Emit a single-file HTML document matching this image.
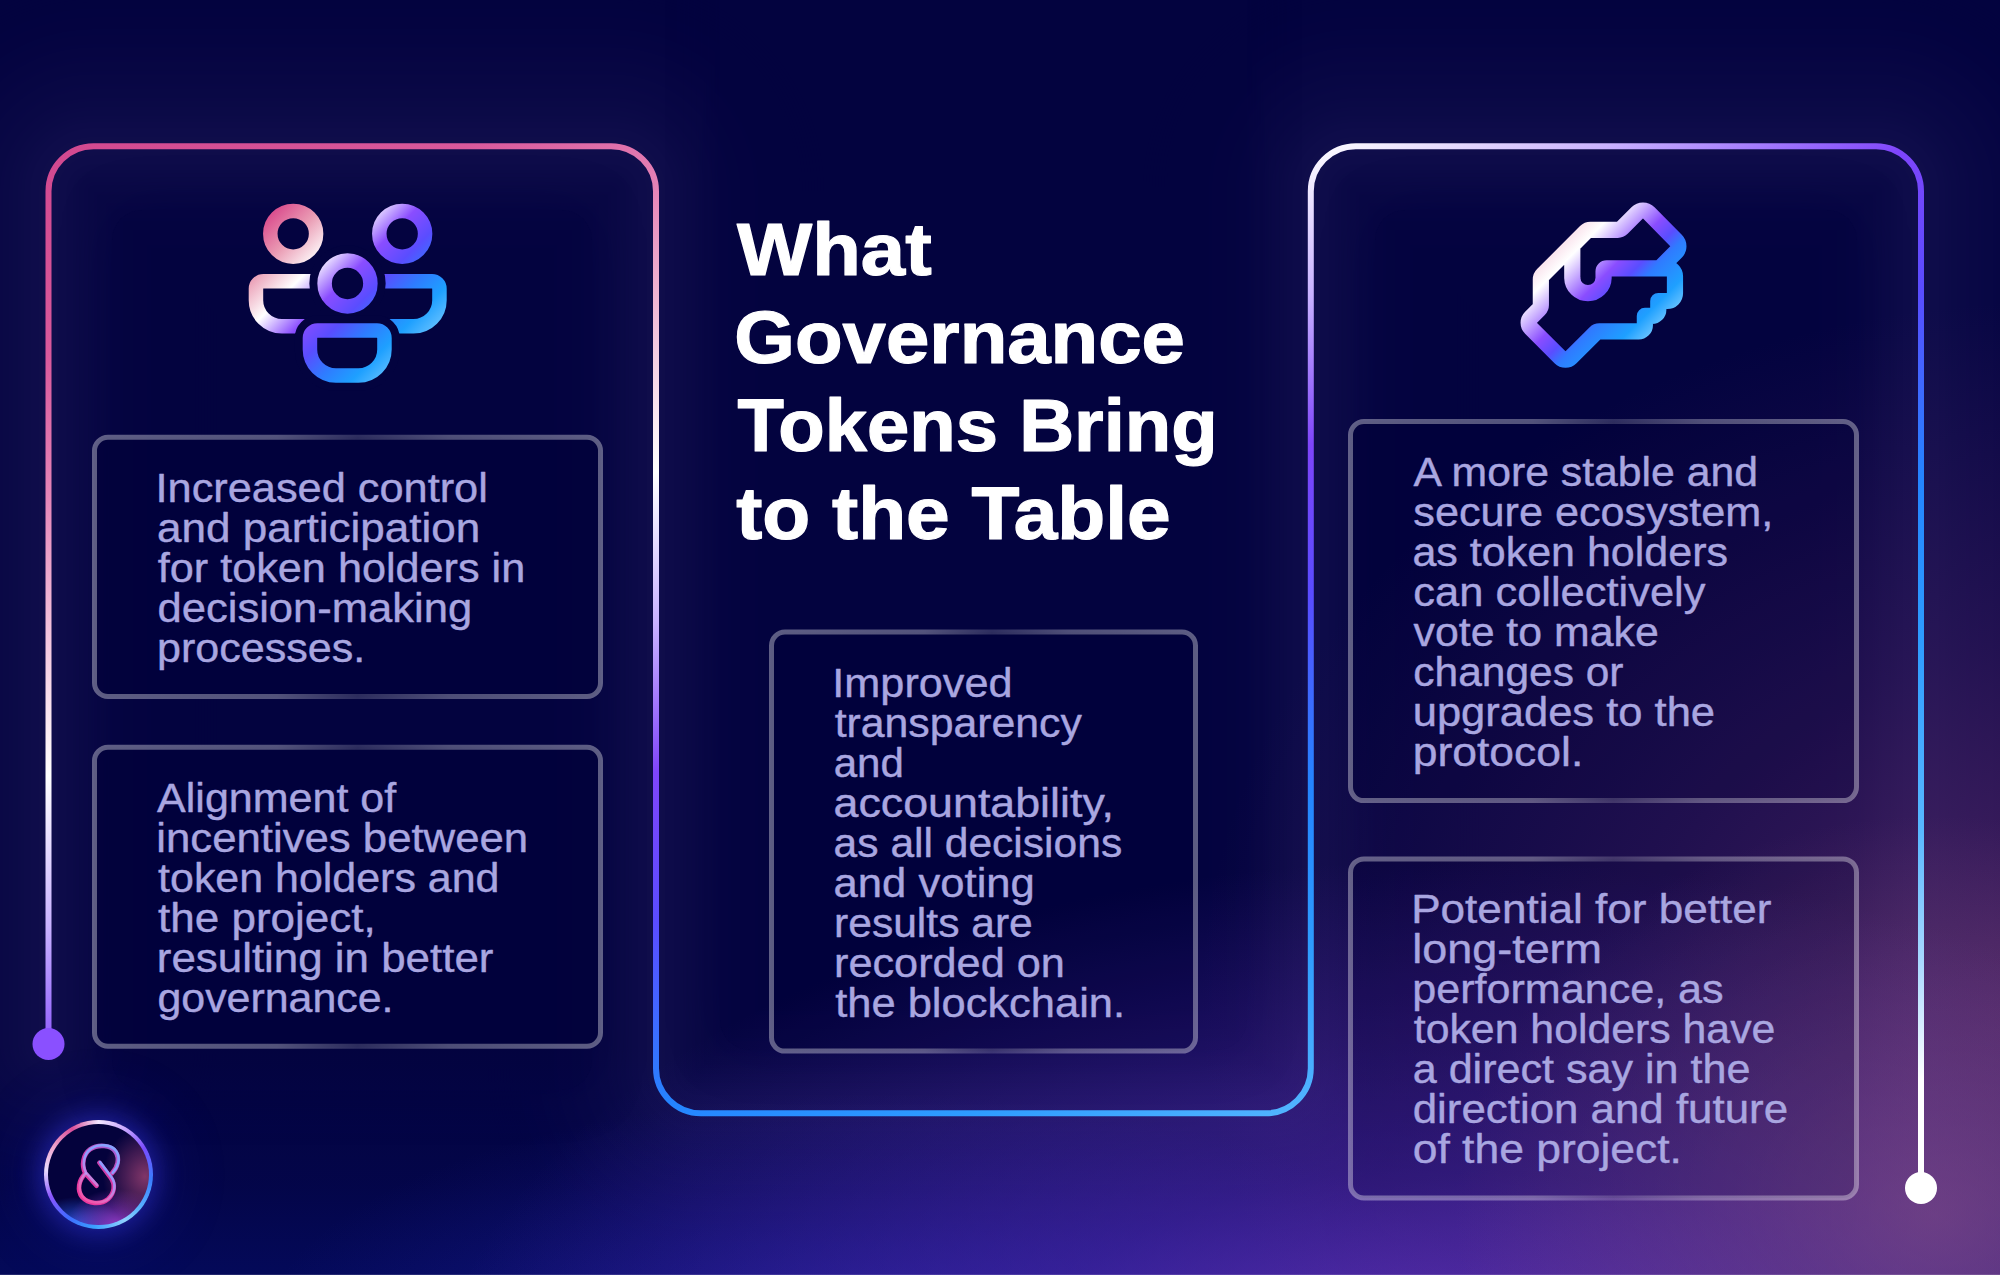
<!DOCTYPE html>
<html><head><meta charset="utf-8"><title>What Governance Tokens Bring to the Table</title>
<style>
html,body{margin:0;padding:0;background:#03033f;}
body{width:2000px;height:1275px;overflow:hidden;position:relative;font-family:"Liberation Sans",sans-serif;}
#bg{position:absolute;left:0;top:0;width:2000px;height:1275px;
 background:
  radial-gradient(ellipse 480px 400px at 1935px 1215px, rgba(140,84,135,0.56), rgba(140,84,135,0) 100%),
  radial-gradient(ellipse 1020px 560px at 1450px 1420px, rgba(120,60,200,0.85), rgba(100,50,195,0.45) 45%, rgba(60,40,180,0) 100%),
  radial-gradient(ellipse 860px 700px at 2060px 1000px, rgba(112,52,118,0.62), rgba(100,45,115,0.30) 50%, rgba(90,40,110,0) 100%),
  radial-gradient(ellipse 620px 240px at 880px 1335px, rgba(40,36,178,0.55), rgba(40,36,178,0) 100%),
  linear-gradient(to top, rgba(6,24,150,0.30) 0px, rgba(6,22,140,0.13) 90px, rgba(6,20,140,0) 230px);}
svg{position:absolute;left:0;top:0;}
.dk{position:absolute;}
.tt{font-family:"Liberation Sans",sans-serif;font-weight:bold;font-size:74px;fill:#ffffff;stroke:#ffffff;stroke-width:1.2px;stroke-linejoin:round;}
.bt{font-family:"Liberation Sans",sans-serif;font-size:40px;fill:#a9a6e0;stroke:#a9a6e0;stroke-width:0.4px;stroke-linejoin:round;}
#logo{position:absolute;left:44.3px;top:1120.4px;width:108.6px;height:108.6px;border-radius:50%;
 background:conic-gradient(from 0deg, #f3e6ff 0deg, #c9a8ff 30deg, #7a4cff 60deg, #3a7dff 95deg, #5ab4ff 130deg, #8fd0ff 150deg, #3aa0ff 185deg, #3f6bff 215deg, #8a55ff 245deg, #e9dcff 275deg, #f0a8d0 300deg, #d84f9a 330deg, #f3e6ff 360deg);
 box-shadow:0 0 24px 5px rgba(60,60,235,0.42), 0 0 60px 18px rgba(40,40,200,0.20);}
#logo i{position:absolute;left:3.6px;top:3.6px;right:3.6px;bottom:3.6px;border-radius:50%;display:block;
 background:
  radial-gradient(ellipse 42px 50px at 96% 52%, rgba(170,70,120,0.75), rgba(170,70,120,0) 100%),
  radial-gradient(ellipse 50px 36px at 68% 100%, rgba(150,60,200,0.95), rgba(150,60,200,0) 100%),
  radial-gradient(ellipse 46px 30px at 28% 102%, rgba(40,90,230,0.95), rgba(40,90,230,0) 100%),
  #04023c;}
#bl{position:absolute;left:0;top:1274px;width:2000px;height:1px;background:rgba(255,255,255,0.12);}
</style></head><body>
<svg width="2000" height="1275" viewBox="0 0 2000 1275">
<defs>
<linearGradient id="lineg" gradientUnits="userSpaceOnUse" x1="48.5" y1="146.0" x2="839.8" y2="1728.6">
<stop offset="0.0000" stop-color="#d2488f"/>
<stop offset="0.1060" stop-color="#d9599c"/>
<stop offset="0.1768" stop-color="#e585b8"/>
<stop offset="0.2476" stop-color="#f3c4dd"/>
<stop offset="0.3183" stop-color="#ffffff"/>
<stop offset="0.3942" stop-color="#c9b2ff"/>
<stop offset="0.4700" stop-color="#7f45fb"/>
<stop offset="0.5458" stop-color="#5a4cff"/>
<stop offset="0.6419" stop-color="#2485ff"/>
<stop offset="0.7227" stop-color="#2e9cff"/>
<stop offset="0.8188" stop-color="#58b8ff"/>
<stop offset="0.8845" stop-color="#a8d8ff"/>
<stop offset="0.9452" stop-color="#ffffff"/>
<stop offset="1.0000" stop-color="#ffffff"/>
</linearGradient>
<linearGradient id="cardg" gradientUnits="objectBoundingBox" x1="0" y1="0" x2="1" y2="0">
<stop offset="0" stop-color="#ffffff" stop-opacity="0.36"/>
<stop offset="0.36" stop-color="#ffffff" stop-opacity="0.32"/>
<stop offset="0.52" stop-color="#ffffff" stop-opacity="0.17"/>
<stop offset="0.70" stop-color="#ffffff" stop-opacity="0.30"/>
<stop offset="1" stop-color="#ffffff" stop-opacity="0.36"/>
</linearGradient>
<linearGradient id="icog1" gradientUnits="userSpaceOnUse" x1="255" y1="225" x2="400" y2="370">
<stop offset="0" stop-color="#d9468a"/>
<stop offset="0.17" stop-color="#ea9cb4"/>
<stop offset="0.34" stop-color="#ffffff"/>
<stop offset="0.50" stop-color="#8a4dff"/>
<stop offset="0.63" stop-color="#5a4dff"/>
<stop offset="0.75" stop-color="#2f7bff"/>
<stop offset="0.87" stop-color="#1ea0ff"/>
<stop offset="1" stop-color="#6cc4ff"/>
</linearGradient>
<linearGradient id="icog2" gradientUnits="userSpaceOnUse" x1="1555" y1="235" x2="1652" y2="332">
<stop offset="0" stop-color="#f6cfe0"/>
<stop offset="0.19" stop-color="#ffffff"/>
<stop offset="0.464" stop-color="#8a4dff"/>
<stop offset="0.588" stop-color="#5a4dff"/>
<stop offset="0.68" stop-color="#2f7bff"/>
<stop offset="0.88" stop-color="#1ea0ff"/>
<stop offset="1" stop-color="#62c0ff"/>
</linearGradient>
<path id="mainline" d="M48.5,1044 V191.2 A45,45 0 0 1 93.5,146.2 H611 A45,45 0 0 1 656,191.2 V1068.3 A45,45 0 0 0 701,1113.3 H1265.8 A45,45 0 0 0 1310.8,1068.3 V191.2 A45,45 0 0 1 1355.8,146.2 H1876 A45,45 0 0 1 1921,191.2 V1188"/>
<filter id="blur40" x="-10%" y="-10%" width="120%" height="120%"><feGaussianBlur stdDeviation="38"/></filter>
<filter id="blur12" x="-10%" y="-10%" width="120%" height="120%"><feGaussianBlur stdDeviation="14"/></filter>
</defs>
</svg>
<svg width="2000" height="1275" viewBox="0 0 2000 1275">
<g fill="none" stroke="#c8aaff" stroke-linecap="round" opacity="0.0711">
<use href="#mainline" stroke-width="534.0" stroke-opacity="0.0021"/>
<use href="#mainline" stroke-width="498.0" stroke-opacity="0.0024"/>
<use href="#mainline" stroke-width="474.0" stroke-opacity="0.0028"/>
<use href="#mainline" stroke-width="456.0" stroke-opacity="0.0030"/>
<use href="#mainline" stroke-width="444.0" stroke-opacity="0.0026"/>
<use href="#mainline" stroke-width="432.0" stroke-opacity="0.0031"/>
<use href="#mainline" stroke-width="420.0" stroke-opacity="0.0038"/>
<use href="#mainline" stroke-width="414.0" stroke-opacity="0.0022"/>
<use href="#mainline" stroke-width="408.0" stroke-opacity="0.0024"/>
<use href="#mainline" stroke-width="402.0" stroke-opacity="0.0026"/>
<use href="#mainline" stroke-width="396.0" stroke-opacity="0.0028"/>
<use href="#mainline" stroke-width="390.0" stroke-opacity="0.0031"/>
<use href="#mainline" stroke-width="384.0" stroke-opacity="0.0033"/>
<use href="#mainline" stroke-width="378.0" stroke-opacity="0.0036"/>
<use href="#mainline" stroke-width="372.0" stroke-opacity="0.0039"/>
<use href="#mainline" stroke-width="366.0" stroke-opacity="0.0042"/>
<use href="#mainline" stroke-width="360.0" stroke-opacity="0.0046"/>
<use href="#mainline" stroke-width="354.0" stroke-opacity="0.0049"/>
<use href="#mainline" stroke-width="348.0" stroke-opacity="0.0053"/>
<use href="#mainline" stroke-width="342.0" stroke-opacity="0.0057"/>
<use href="#mainline" stroke-width="336.0" stroke-opacity="0.0061"/>
<use href="#mainline" stroke-width="330.0" stroke-opacity="0.0066"/>
<use href="#mainline" stroke-width="324.0" stroke-opacity="0.0070"/>
<use href="#mainline" stroke-width="318.0" stroke-opacity="0.0075"/>
<use href="#mainline" stroke-width="312.0" stroke-opacity="0.0081"/>
<use href="#mainline" stroke-width="306.0" stroke-opacity="0.0086"/>
<use href="#mainline" stroke-width="300.0" stroke-opacity="0.0092"/>
<use href="#mainline" stroke-width="294.0" stroke-opacity="0.0097"/>
<use href="#mainline" stroke-width="288.0" stroke-opacity="0.0104"/>
<use href="#mainline" stroke-width="282.0" stroke-opacity="0.0110"/>
<use href="#mainline" stroke-width="276.0" stroke-opacity="0.0117"/>
<use href="#mainline" stroke-width="270.0" stroke-opacity="0.0123"/>
<use href="#mainline" stroke-width="264.0" stroke-opacity="0.0131"/>
<use href="#mainline" stroke-width="258.0" stroke-opacity="0.0138"/>
<use href="#mainline" stroke-width="252.0" stroke-opacity="0.0145"/>
<use href="#mainline" stroke-width="246.0" stroke-opacity="0.0153"/>
<use href="#mainline" stroke-width="240.0" stroke-opacity="0.0161"/>
<use href="#mainline" stroke-width="234.0" stroke-opacity="0.0169"/>
<use href="#mainline" stroke-width="228.0" stroke-opacity="0.0178"/>
<use href="#mainline" stroke-width="222.0" stroke-opacity="0.0186"/>
<use href="#mainline" stroke-width="216.0" stroke-opacity="0.0195"/>
<use href="#mainline" stroke-width="210.0" stroke-opacity="0.0203"/>
<use href="#mainline" stroke-width="204.0" stroke-opacity="0.0212"/>
<use href="#mainline" stroke-width="198.0" stroke-opacity="0.0221"/>
<use href="#mainline" stroke-width="192.0" stroke-opacity="0.0230"/>
<use href="#mainline" stroke-width="186.0" stroke-opacity="0.0239"/>
<use href="#mainline" stroke-width="180.0" stroke-opacity="0.0248"/>
<use href="#mainline" stroke-width="174.0" stroke-opacity="0.0257"/>
<use href="#mainline" stroke-width="168.0" stroke-opacity="0.0266"/>
<use href="#mainline" stroke-width="162.0" stroke-opacity="0.0274"/>
<use href="#mainline" stroke-width="156.0" stroke-opacity="0.0283"/>
<use href="#mainline" stroke-width="150.0" stroke-opacity="0.0291"/>
<use href="#mainline" stroke-width="144.0" stroke-opacity="0.0300"/>
<use href="#mainline" stroke-width="138.0" stroke-opacity="0.0309"/>
<use href="#mainline" stroke-width="132.0" stroke-opacity="0.0318"/>
<use href="#mainline" stroke-width="126.0" stroke-opacity="0.0329"/>
<use href="#mainline" stroke-width="120.0" stroke-opacity="0.0341"/>
<use href="#mainline" stroke-width="114.0" stroke-opacity="0.0356"/>
<use href="#mainline" stroke-width="108.0" stroke-opacity="0.0374"/>
<use href="#mainline" stroke-width="102.0" stroke-opacity="0.0397"/>
<use href="#mainline" stroke-width="96.0" stroke-opacity="0.0427"/>
<use href="#mainline" stroke-width="90.0" stroke-opacity="0.0465"/>
<use href="#mainline" stroke-width="84.0" stroke-opacity="0.0512"/>
<use href="#mainline" stroke-width="78.0" stroke-opacity="0.0570"/>
<use href="#mainline" stroke-width="72.0" stroke-opacity="0.0640"/>
<use href="#mainline" stroke-width="66.0" stroke-opacity="0.0722"/>
<use href="#mainline" stroke-width="60.0" stroke-opacity="0.0815"/>
<use href="#mainline" stroke-width="54.0" stroke-opacity="0.0916"/>
<use href="#mainline" stroke-width="48.0" stroke-opacity="0.1022"/>
<use href="#mainline" stroke-width="42.0" stroke-opacity="0.1125"/>
<use href="#mainline" stroke-width="36.0" stroke-opacity="0.1212"/>
<use href="#mainline" stroke-width="30.0" stroke-opacity="0.1264"/>
<use href="#mainline" stroke-width="24.0" stroke-opacity="0.1254"/>
<use href="#mainline" stroke-width="18.0" stroke-opacity="0.1145"/>
<use href="#mainline" stroke-width="12.0" stroke-opacity="0.0902"/>
<use href="#mainline" stroke-width="6.0" stroke-opacity="0.0510"/>
</g>
</svg>
<div class="dk" style="left:112px;top:210px;width:480px;height:880px;border-radius:30px;background:rgba(3,3,63,0.62);box-shadow:0 0 46px 0px rgba(3,3,63,0.62)"></div>
<div class="dk" style="left:720px;top:-100px;width:527px;height:1150px;border-radius:30px;background:rgba(3,3,63,0.62);box-shadow:0 0 46px 0px rgba(3,3,63,0.62)"></div>
<div class="dk" style="left:1375px;top:210px;width:482px;height:1030px;border-radius:30px;background:rgba(3,3,63,0.62);box-shadow:0 0 46px 0px rgba(3,3,63,0.62)"></div>
<div class="dk" style="left:94px;top:436.7px;width:507px;height:260.3px;border-radius:15px;background:rgba(3,3,63,0.7)"></div>
<div class="dk" style="left:94px;top:746.8px;width:507px;height:300px;border-radius:15px;background:rgba(3,3,63,0.7)"></div>
<div class="dk" style="left:771px;top:631.6px;width:425px;height:420px;border-radius:15px;background:rgba(3,3,63,0.7)"></div>
<div class="dk" style="left:1350px;top:421.1px;width:507px;height:380px;border-radius:15px;background:rgba(3,3,63,0.7)"></div>
<div class="dk" style="left:1350px;top:858.4px;width:507px;height:340px;border-radius:15px;background:rgba(3,3,63,0.7)"></div>
<div id="bg"></div>
<svg width="2000" height="1275" viewBox="0 0 2000 1275">
<path d="M48.5,1044 V191.2 A45,45 0 0 1 93.5,146.2 H611 A45,45 0 0 1 656,191.2 V1068.3 A45,45 0 0 0 701,1113.3 H1265.8 A45,45 0 0 0 1310.8,1068.3 V191.2 A45,45 0 0 1 1355.8,146.2 H1876 A45,45 0 0 1 1921,191.2 V1188" fill="none" stroke="url(#lineg)" stroke-width="6" stroke-linecap="butt"/>
<circle cx="48.5" cy="1044" r="16" fill="#8a50ff"/>
<circle cx="1921" cy="1188" r="16" fill="#ffffff"/>
<rect x="94.5" y="437.2" width="506" height="259.3" rx="13.5" ry="13.5" fill="rgba(0,0,48,0.13)" stroke="url(#cardg)" stroke-width="5"/>
<rect x="94.5" y="747.3" width="506" height="299" rx="13.5" ry="13.5" fill="rgba(0,0,48,0.13)" stroke="url(#cardg)" stroke-width="5"/>
<rect x="771.5" y="632.1" width="424" height="419" rx="13.5" ry="13.5" fill="rgba(0,0,48,0.13)" stroke="url(#cardg)" stroke-width="5"/>
<rect x="1350.5" y="421.6" width="506" height="379" rx="13.5" ry="13.5" fill="rgba(0,0,48,0.13)" stroke="url(#cardg)" stroke-width="5"/>
<rect x="1350.5" y="858.9" width="506" height="339" rx="13.5" ry="13.5" fill="rgba(0,0,48,0.13)" stroke="url(#cardg)" stroke-width="5"/>

<g fill="none" stroke="url(#icog1)" stroke-width="14.5">
  <circle cx="293.2" cy="233.8" r="22.9"/>
  <circle cx="402.2" cy="233.8" r="22.9"/>
  <path d="M312.45,281.3 H263.45 A7.5,7.5 0 0 0 255.95,288.8 V300.3 A26,26 0 0 0 281.95,326.3 H312.45"/>
  <path d="M382.95,281.3 H431.95 A7.5,7.5 0 0 1 439.45,288.8 V300.3 A26,26 0 0 1 413.45,326.3 H382.95"/>
</g>
<g fill="none" stroke="#03033f" stroke-width="30.5">
  <circle cx="347.5" cy="283.5" r="22.9"/>
  <path d="M317.45,330.5 H376.95 A7.5,7.5 0 0 1 384.45,338.0 V349.5 A26,26 0 0 1 358.45,375.5 H335.95 A26,26 0 0 1 309.95,349.5 V338.0 A7.5,7.5 0 0 1 317.45,330.5 Z"/>
</g>
<g fill="#03033f" stroke="none">
  <circle cx="347.5" cy="283.5" r="22.9"/>
  <path d="M317.45,330.5 H376.95 A7.5,7.5 0 0 1 384.45,338.0 V349.5 A26,26 0 0 1 358.45,375.5 H335.95 A26,26 0 0 1 309.95,349.5 V338.0 A7.5,7.5 0 0 1 317.45,330.5 Z"/>
</g>
<g fill="none" stroke="url(#icog1)" stroke-width="14.5">
  <circle cx="347.5" cy="283.5" r="22.9"/>
  <path d="M317.45,330.5 H376.95 A7.5,7.5 0 0 1 384.45,338.0 V349.5 A26,26 0 0 1 358.45,375.5 H335.95 A26,26 0 0 1 309.95,349.5 V338.0 A7.5,7.5 0 0 1 317.45,330.5 Z"/>
</g>

<path d="M1572.29,245.29 L1572.29,277.92 A15.65,15.65 0 0 0 1603.58,277.92 L1603.58,277.92 L1603.58,271.44 A2.98,2.98 0 0 1 1606.57,268.46 L1667.22,268.46 A7.75,7.75 0 0 1 1674.97,276.21 L1674.97,293.27 A7.75,7.75 0 0 1 1667.22,301.02 L1658.28,301.02 L1658.28,309.66 A6.26,6.26 0 0 1 1652.02,315.92 L1644.86,315.92 L1644.86,325.16 A6.26,6.26 0 0 1 1638.60,331.42 L1599.35,331.42 A5.96,5.96 0 0 0 1595.13,333.17 L1570.78,357.52 A7.45,7.45 0 0 1 1560.24,357.52 L1530.84,328.12 A7.45,7.45 0 0 1 1530.84,317.58 L1539.10,309.32 A5.96,5.96 0 0 0 1540.85,305.11 L1540.85,279.51 A6.71,6.71 0 0 1 1542.81,274.77 L1585.75,231.83 A6.71,6.71 0 0 1 1590.49,229.86 L1617.73,229.86 A5.96,5.96 0 0 0 1621.95,228.12 L1637.17,212.89 A8.20,8.20 0 0 1 1648.80,212.93 L1676.02,240.46 A8.20,8.20 0 0 1 1675.98,252.02 L1659.62,268.38" fill="none" stroke="url(#icog2)" stroke-width="16.2" stroke-linejoin="round" stroke-linecap="round"/>
<g>
<text class="tt" x="737.00" y="275.20" textLength="194.69" lengthAdjust="spacingAndGlyphs">What</text>
<text class="tt" x="734.34" y="363.20" textLength="450.63" lengthAdjust="spacingAndGlyphs">Governance</text>
<text class="tt" x="737.50" y="451.20" textLength="480.22" lengthAdjust="spacingAndGlyphs">Tokens Bring</text>
<text class="tt" x="736.20" y="539.20" textLength="434.49" lengthAdjust="spacingAndGlyphs">to the Table</text>
<text class="bt" x="155.55" y="501.60" textLength="332.29" lengthAdjust="spacingAndGlyphs">Increased control</text>
<text class="bt" x="157.10" y="541.60" textLength="323.17" lengthAdjust="spacingAndGlyphs">and participation</text>
<text class="bt" x="157.80" y="581.60" textLength="367.43" lengthAdjust="spacingAndGlyphs">for token holders in</text>
<text class="bt" x="157.51" y="621.60" textLength="314.73" lengthAdjust="spacingAndGlyphs">decision-making</text>
<text class="bt" x="157.05" y="661.60" textLength="208.10" lengthAdjust="spacingAndGlyphs">processes.</text>
<text class="bt" x="157.10" y="811.70" textLength="239.05" lengthAdjust="spacingAndGlyphs">Alignment of</text>
<text class="bt" x="156.31" y="851.70" textLength="371.84" lengthAdjust="spacingAndGlyphs">incentives between</text>
<text class="bt" x="158.10" y="891.70" textLength="341.31" lengthAdjust="spacingAndGlyphs">token holders and</text>
<text class="bt" x="158.10" y="931.70" textLength="217.52" lengthAdjust="spacingAndGlyphs">the project,</text>
<text class="bt" x="156.81" y="971.70" textLength="336.65" lengthAdjust="spacingAndGlyphs">resulting in better</text>
<text class="bt" x="157.43" y="1011.70" textLength="236.11" lengthAdjust="spacingAndGlyphs">governance.</text>
<text class="bt" x="832.36" y="696.50" textLength="180.17" lengthAdjust="spacingAndGlyphs">Improved</text>
<text class="bt" x="834.70" y="736.50" textLength="247.20" lengthAdjust="spacingAndGlyphs">transparency</text>
<text class="bt" x="833.65" y="776.50" textLength="70.22" lengthAdjust="spacingAndGlyphs">and</text>
<text class="bt" x="833.58" y="816.50" textLength="280.30" lengthAdjust="spacingAndGlyphs">accountability,</text>
<text class="bt" x="833.64" y="856.50" textLength="288.53" lengthAdjust="spacingAndGlyphs">as all decisions</text>
<text class="bt" x="833.61" y="896.50" textLength="201.24" lengthAdjust="spacingAndGlyphs">and voting</text>
<text class="bt" x="834.07" y="936.50" textLength="198.75" lengthAdjust="spacingAndGlyphs">results are</text>
<text class="bt" x="834.04" y="976.50" textLength="230.79" lengthAdjust="spacingAndGlyphs">recorded on</text>
<text class="bt" x="835.20" y="1016.50" textLength="289.88" lengthAdjust="spacingAndGlyphs">the blockchain.</text>
<text class="bt" x="1413.50" y="486.00" textLength="344.58" lengthAdjust="spacingAndGlyphs">A more stable and</text>
<text class="bt" x="1413.32" y="526.00" textLength="360.04" lengthAdjust="spacingAndGlyphs">secure ecosystem,</text>
<text class="bt" x="1412.42" y="566.00" textLength="315.55" lengthAdjust="spacingAndGlyphs">as token holders</text>
<text class="bt" x="1413.31" y="606.00" textLength="292.19" lengthAdjust="spacingAndGlyphs">can collectively</text>
<text class="bt" x="1413.50" y="646.00" textLength="245.23" lengthAdjust="spacingAndGlyphs">vote to make</text>
<text class="bt" x="1413.34" y="686.00" textLength="210.10" lengthAdjust="spacingAndGlyphs">changes or</text>
<text class="bt" x="1412.72" y="726.00" textLength="302.33" lengthAdjust="spacingAndGlyphs">upgrades to the</text>
<text class="bt" x="1412.68" y="766.00" textLength="170.59" lengthAdjust="spacingAndGlyphs">protocol.</text>
<text class="bt" x="1411.19" y="923.20" textLength="360.26" lengthAdjust="spacingAndGlyphs">Potential for better</text>
<text class="bt" x="1412.25" y="963.20" textLength="189.75" lengthAdjust="spacingAndGlyphs">long-term</text>
<text class="bt" x="1412.35" y="1003.20" textLength="311.23" lengthAdjust="spacingAndGlyphs">performance, as</text>
<text class="bt" x="1413.80" y="1043.20" textLength="361.53" lengthAdjust="spacingAndGlyphs">token holders have</text>
<text class="bt" x="1412.72" y="1083.20" textLength="337.62" lengthAdjust="spacingAndGlyphs">a direct say in the</text>
<text class="bt" x="1412.70" y="1123.20" textLength="375.36" lengthAdjust="spacingAndGlyphs">direction and future</text>
<text class="bt" x="1412.69" y="1163.20" textLength="269.27" lengthAdjust="spacingAndGlyphs">of the project.</text>
</g>
</svg>
<div id="logo"><i></i></div>
<svg width="2000" height="1275" viewBox="0 0 2000 1275" style="pointer-events:none">
<defs>
<linearGradient id="lg1" gradientUnits="userSpaceOnUse" x1="78" y1="1200" x2="120" y2="1146">
<stop offset="0" stop-color="#f0389c"/><stop offset="0.55" stop-color="#d23aa8"/><stop offset="1" stop-color="#9a6ae0"/>
</linearGradient>
<linearGradient id="lg2" gradientUnits="userSpaceOnUse" x1="82" y1="1196" x2="116" y2="1150">
<stop offset="0" stop-color="#ffb0d8" stop-opacity="0.25"/><stop offset="0.38" stop-color="#b0a0ff" stop-opacity="0.75"/><stop offset="0.6" stop-color="#8f9cff" stop-opacity="1"/><stop offset="1" stop-color="#86a4ff" stop-opacity="1"/>
</linearGradient>
</defs>
<g fill="none" stroke-linecap="round" stroke-linejoin="round">
<path d="M111.91,1173.39 C117.56,1167.62 120.07,1158.84 115.68,1151.94 C111.29,1145.04 98.11,1143.78 89.96,1149.43 C83.06,1154.45 81.17,1165.11 85.25,1173.27 L96.54,1185.69" stroke="url(#lg1)" stroke-width="4.6"/>
<path d="M99.37,1162.73 L110.66,1177.66 C115.68,1184.56 114.42,1193.34 108.15,1198.99 C100.62,1205.26 88.08,1204.01 82.12,1197.11 C76.78,1190.21 78.66,1180.17 85.06,1174.02" stroke="url(#lg1)" stroke-width="4.6"/>
<g transform="translate(0.7,-0.6)">
<path d="M111.91,1173.39 C117.56,1167.62 120.07,1158.84 115.68,1151.94 C111.29,1145.04 98.11,1143.78 89.96,1149.43 C83.06,1154.45 81.17,1165.11 85.25,1173.27 L96.54,1185.69" stroke="url(#lg2)" stroke-width="2.6"/>
<path d="M99.37,1162.73 L110.66,1177.66 C115.68,1184.56 114.42,1193.34 108.15,1198.99 C100.62,1205.26 88.08,1204.01 82.12,1197.11 C76.78,1190.21 78.66,1180.17 85.06,1174.02" stroke="url(#lg2)" stroke-width="2.6"/>
</g>
</g>
</svg>
<div id="bl"></div>
</body></html>
